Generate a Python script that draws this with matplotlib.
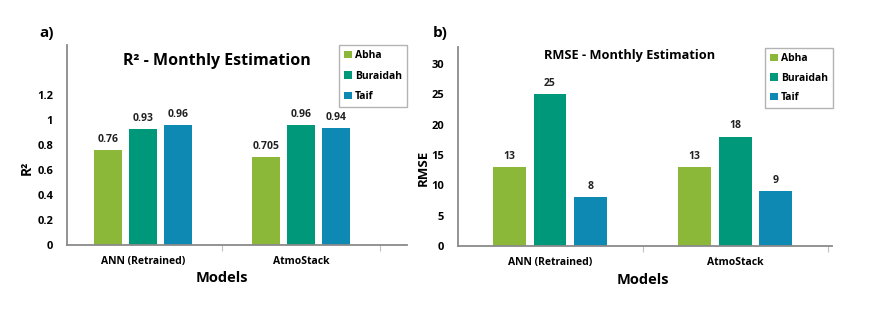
import matplotlib
matplotlib.use("Agg")
import matplotlib.pyplot as plt
import numpy as np

models = ["ANN (Retrained)", "AtmoStack"]
cities = ["Abha", "Buraidah", "Taif"]
r2_values = {"Abha": [0.76, 0.705], "Buraidah": [0.93, 0.96], "Taif": [0.96, 0.94]}
r2_labels = {"Abha": ["0.76", "0.705"], "Buraidah": ["0.93", "0.96"], "Taif": ["0.96", "0.94"]}
rmse_values = {"Abha": [13, 13], "Buraidah": [25, 18], "Taif": [8, 9]}
r2_ticks = [0, 0.2, 0.4, 0.6, 0.8, 1.0, 1.2]
r2_ticklabels = ["0", "0.2", "0.4", "0.6", "0.8", "1", "1.2"]
rmse_ticks = [0, 5, 10, 15, 20, 25, 30]

colors = {"Abha": "#8BB838", "Buraidah": "#00987A", "Taif": "#0D89B3"}

plt.rcParams['font.family'] = ['Open Sans', 'DejaVu Sans']
plt.rcParams['font.weight'] = 'bold'

fig = plt.figure(figsize=(8.8, 3.13), dpi=100)
W, H = 880, 313

def px_axes(x0, x1, ytop, ybot):
    return fig.add_axes([x0 / W, 1 - ybot / H, (x1 - x0) / W, (ybot - ytop) / H])

axL = px_axes(67, 407, 45, 245)
axR = px_axes(458, 832, 47, 246)

def style(ax):
    for s in ["top", "right"]:
        ax.spines[s].set_visible(False)
    for s in ["left", "bottom"]:
        ax.spines[s].set_color("#8a8a8a")
        ax.spines[s].set_linewidth(1.3)
    ax.tick_params(axis="y", length=0, labelsize=8, pad=10)
    ax.tick_params(axis="x", which="major", length=0, labelsize=7.5, pad=8)
    ax.tick_params(axis="x", which="minor", length=4, color="#c0c0c0", width=0.8)
    for lab in ax.get_yticklabels() + ax.get_xticklabels():
        lab.set_fontweight("bold")

x = np.arange(len(models))
offsets = [-0.221, 0, 0.221]

# Left panel
for i, c in enumerate(cities):
    bars = axL.bar(x + offsets[i], r2_values[c], width=0.177, color=colors[c], label=c)
    for b, lab in zip(bars, r2_labels[c]):
        axL.text(b.get_x() + b.get_width() / 2, b.get_height() + 0.04, lab,
                 ha="center", va="bottom", fontsize=7.5, fontweight="bold", color="#222222")
axL.set_xlim(-0.48, 1.67)
axL.set_ylim(0, 1.6)
axL.set_yticks(r2_ticks)
axL.set_yticklabels(r2_ticklabels)
axL.set_xticks(x)
axL.set_xticklabels(models)
axL.set_xticks([0.5, 1.5], minor=True)
style(axL)
fig.text(222 / W, 1 - 278 / H, "Models", ha="center", va="center", fontsize=10.5, fontweight="bold")
fig.text(27 / W, 1 - 168 / H, "R²", ha="center", va="center", rotation=90, fontsize=10, fontweight="bold")
fig.text(217 / W, 1 - 61 / H, "R² - Monthly Estimation", ha="center", va="center",
         fontsize=11.5, fontweight="bold")
legL = axL.legend(loc="upper right", bbox_to_anchor=(407 / W, 1 - 45 / H), bbox_transform=fig.transFigure,
                  fontsize=7.5, frameon=True, fancybox=False, edgecolor="#a0a0a0",
                  handlelength=0.7, handleheight=0.7, handletextpad=0.3, labelspacing=0.9,
                  borderpad=0.5, borderaxespad=0)
for t in legL.get_texts():
    t.set_fontweight("bold")

# Right panel
for i, c in enumerate(cities):
    bars = axR.bar(x + offsets[i], rmse_values[c], width=0.178, color=colors[c], label=c)
    for b in bars:
        axR.text(b.get_x() + b.get_width() / 2, b.get_height() + 0.9, f"{b.get_height():g}",
                 ha="center", va="bottom", fontsize=7.5, fontweight="bold", color="#222222")
axR.set_xlim(-0.497, 1.524)
axR.set_ylim(0, 32.8)
axR.set_yticks(rmse_ticks)
axR.set_xticks(x)
axR.set_xticklabels(models)
axR.set_xticks([0.5, 1.5], minor=True)
style(axR)
fig.text(643 / W, 1 - 280 / H, "Models", ha="center", va="center", fontsize=10.5, fontweight="bold")
fig.text(423 / W, 1 - 168 / H, "RMSE", ha="center", va="center", rotation=90, fontsize=9.5, fontweight="bold")
fig.text(630 / W, 1 - 55 / H, "RMSE - Monthly Estimation", ha="center", va="center",
         fontsize=9.2, fontweight="bold")
legR = axR.legend(loc="upper right", bbox_to_anchor=(833 / W, 1 - 48 / H), bbox_transform=fig.transFigure,
                  fontsize=7.5, frameon=True, fancybox=False, edgecolor="#a0a0a0",
                  handlelength=0.7, handleheight=0.7, handletextpad=0.3, labelspacing=0.8,
                  borderpad=0.5, borderaxespad=0)
for t in legR.get_texts():
    t.set_fontweight("bold")

fig.text(47 / W, 1 - 33 / H, "a)", ha="center", va="center", fontsize=11, fontweight="bold")
fig.text(440 / W, 1 - 33 / H, "b)", ha="center", va="center", fontsize=11, fontweight="bold")

fig.savefig("out.png", dpi=100)
